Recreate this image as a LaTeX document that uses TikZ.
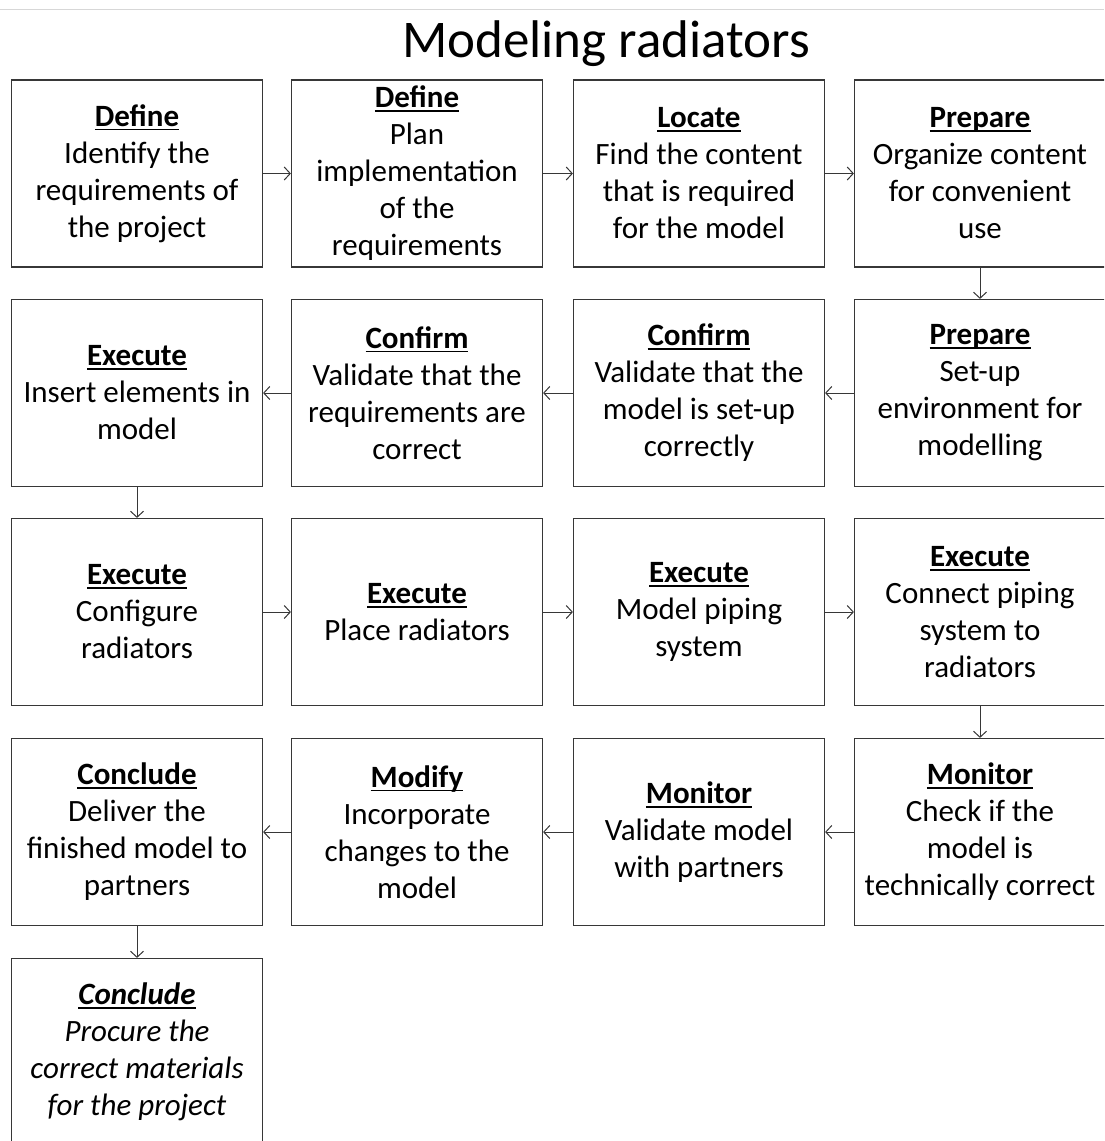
\documentclass[tikz,border=0pt]{standalone}
\usepackage{fontspec}
\setmainfont{Carlito}
\usetikzlibrary{arrows.meta}
\definecolor{boxline}{RGB}{55,55,55}
\definecolor{rule}{RGB}{215,215,215}
\newcommand{\hd}[1]{\setbox0\hbox{\textbf{#1}}\rlap{\rule[-4.2pt]{\wd0}{1.8pt}}\box0}

\begin{document}
\begin{tikzpicture}[x=1pt, y=-1pt,
    stepbox/.style={draw=boxline, line width=1.2pt, minimum width=251pt,
      minimum height=187pt, inner sep=0pt, align=center,
      font=\fontsize{31}{37}\selectfont},
    flow/.style={draw=boxline, line width=1pt, -{Straight Barb[length=6pt,width=13pt]}}]
  \useasboundingbox (0,0) rectangle (1104,1141);
  \clip (0,0) rectangle (1104,1141);
  %% Title
  \draw[rule, line width=1pt] (0,9) -- (1104,9);
  \node[anchor=base, font=\fontsize{53}{60}\selectfont] (title) at (606,57) {Modeling radiators};

  %% Row 1
  \node[stepbox] (def1) at (137,173.5) {\hd{Define}\\Identify the\\requirements of\\the project};
  \node[stepbox] (def2) at (417,173.5) {\hd{Define}\\Plan\\implementation\\of the\\requirements};
  \node[stepbox] (loc) at (699,173.5) {\hd{Locate}\\Find the content\\that is required\\for the model};
  \node[stepbox] (prep1) at (980,173.5) {\hd{Prepare}\\Organize content\\for convenient\\use};
  %% Row 2
  \node[stepbox] (prep2) at (980,393) {\hd{Prepare}\\Set-up\\environment for\\modelling};
  \node[stepbox] (conf1) at (699,393) {\hd{Confirm}\\Validate that the\\model is set-up\\correctly};
  \node[stepbox] (conf2) at (417,393) {\hd{Confirm}\\Validate that the\\requirements are\\correct};
  \node[stepbox] (exe1) at (137,393) {\hd{Execute}\\Insert elements in\\model};
  %% Row 3
  \node[stepbox] (exe2) at (137,612) {\hd{Execute}\\Configure\\radiators};
  \node[stepbox] (exe3) at (417,612) {\hd{Execute}\\Place radiators};
  \node[stepbox] (exe4) at (699,612) {\hd{Execute}\\Model piping\\system};
  \node[stepbox] (exe5) at (980,612) {\hd{Execute}\\Connect piping\\system to\\radiators};
  %% Row 4
  \node[stepbox] (mon1) at (980,832) {\hd{Monitor}\\Check if the\\model is\\technically correct};
  \node[stepbox] (mon2) at (699,832) {\hd{Monitor}\\Validate model\\with partners};
  \node[stepbox] (mod) at (417,832) {\hd{Modify}\\Incorporate\\changes to the\\model};
  \node[stepbox] (conc1) at (137,832) {\hd{Conclude}\\Deliver the\\finished model to\\partners};
  %% Row 5
  \node[stepbox, font=\fontsize{31}{37}\selectfont\itshape] (conc2) at (137,1052) {\hd{Conclude}\\Procure the\\correct materials\\for the project};

  %% Connectors
  \draw[flow] (def1) -- (def2);
  \draw[flow] (def2) -- (loc);
  \draw[flow] (loc) -- (prep1);
  \draw[flow] (prep1) -- (prep2);
  \draw[flow] (prep2) -- (conf1);
  \draw[flow] (conf1) -- (conf2);
  \draw[flow] (conf2) -- (exe1);
  \draw[flow] (exe1) -- (exe2);
  \draw[flow] (exe2) -- (exe3);
  \draw[flow] (exe3) -- (exe4);
  \draw[flow] (exe4) -- (exe5);
  \draw[flow] (exe5) -- (mon1);
  \draw[flow] (mon1) -- (mon2);
  \draw[flow] (mon2) -- (mod);
  \draw[flow] (mod) -- (conc1);
  \draw[flow] (conc1) -- (conc2);
\end{tikzpicture}
\end{document}
